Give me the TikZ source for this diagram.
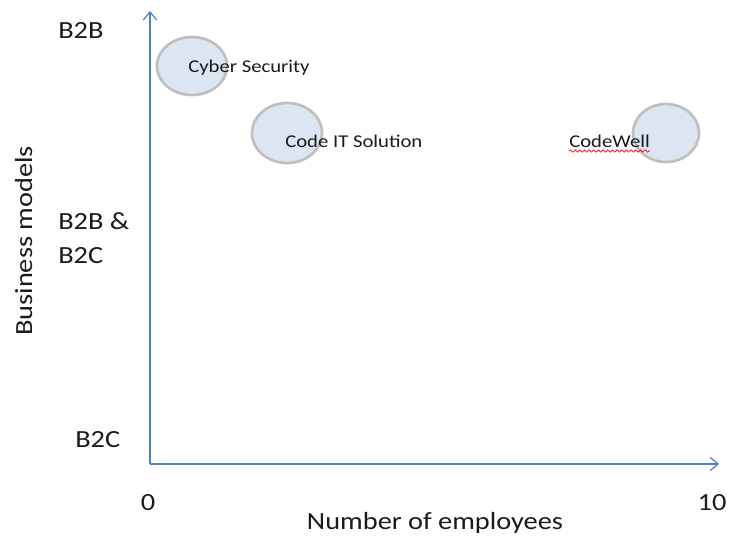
\documentclass[tikz,border=0pt]{standalone}
\usepackage{fontspec}
\setmainfont[FakeStretch=1.15]{Carlito}
\usetikzlibrary{shapes.geometric,decorations.pathmorphing,arrows.meta}
\definecolor{axisblue}{HTML}{4F81BD}
\definecolor{bubfill}{HTML}{DCE6F2}
\definecolor{bubline}{HTML}{BFBFBF}
\definecolor{txt}{HTML}{1A1A1A}
\begin{document}
\begin{tikzpicture}[x=0.75pt,y=-0.75pt,
  axis/.style={draw=axisblue,line width=1.1pt,-{Straight Barb[length=6pt,width=10pt,line width=0.9pt]}},
  bubble/.style={ellipse,draw=bubline,fill=bubfill,line width=2pt,inner sep=0pt},
  bigtxt/.style={text=txt,font=\fontsize{18.5}{20}\selectfont,inner sep=0pt},
  smalltxt/.style={text=txt,font=\fontsize{13.5}{15}\selectfont,inner sep=0pt}]
\useasboundingbox (0,0) rectangle (729,537);
% axes
\coordinate (O) at (150,464);
\coordinate (Ytop) at (150,11);
\coordinate (Xend) at (719,464);
\draw[axis] (O) -- (Ytop);
\draw[axis] (O) -- (Xend);
% bubbles
\node[bubble,minimum width=70pt*0.75,minimum height=58pt*0.75] (b1) at (192,66) {};
\node[bubble,minimum width=70pt*0.75,minimum height=60pt*0.75] (b2) at (287,133) {};
\node[bubble,minimum width=66pt*0.75,minimum height=58pt*0.75] (b3) at (666,133) {};
% bubble labels
\node[smalltxt,anchor=base west] (l1) at (188,72) {Cyber Security};
\node[smalltxt,anchor=base west] (l2) at (285,147) {Code IT Solution};
\node[smalltxt,anchor=base west] (l3) at (569,147) {CodeWell};
\draw[red,line width=0.5pt,decorate,decoration={snake,amplitude=0.9pt,segment length=3.5pt}]
  ([yshift=-3pt]l3.base west) -- ([yshift=-3pt]l3.base east);
% y labels
\node[bigtxt,anchor=base west] (y1) at (58,38) {B2B};
\node[bigtxt,anchor=base west] (y2) at (58,229) {B2B \&};
\node[bigtxt,anchor=base west] (y3) at (58,263) {B2C};
\node[bigtxt,anchor=base west] (y4) at (75,447) {B2C};
\node[bigtxt,rotate=90,anchor=base] (yl) at (32,241) {Business models};
% x labels
\node[bigtxt] (x0) at (148,503) {0};
\node[bigtxt] (x10) at (712,503) {10};
\node[bigtxt] (xl) at (435,523) {Number of employees};
\end{tikzpicture}
\end{document}
